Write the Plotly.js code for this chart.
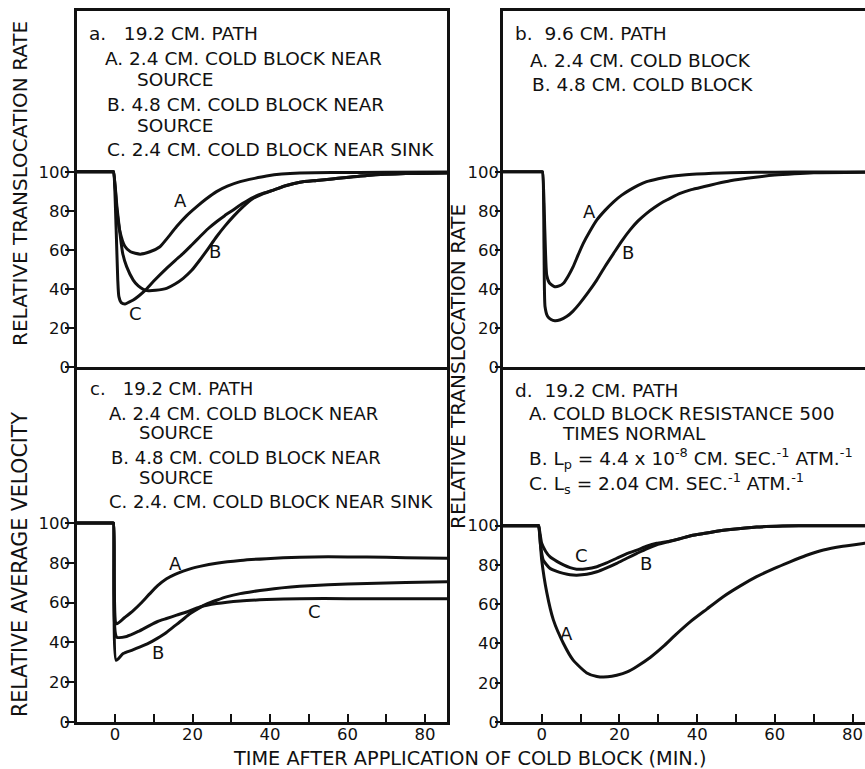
<!DOCTYPE html>
<html>
<head>
<meta charset="utf-8">
<script src="https://cdn.plot.ly/plotly-3.0.1.min.js"></script>
<style>html,body{margin:0;padding:0;background:#fff;}#chart{width:865px;height:769px;}</style>
</head>
<body>
<div id="chart"></div>
<script>
// ---------------- DATA ----------------
// Panel a: relative translocation rate, 19.2 cm path
const aA_x = [-10, -0.6, -0.4, 0.5, 1.2, 2.5, 4, 6.5, 9, 11.6, 13.5, 15.9, 18.5, 21.1, 23.5, 26.2, 29, 32.3, 36, 39.1, 43, 47.7, 56, 70, 86];
const aA_y = [100, 100, 100, 80, 70, 62, 59, 57.8, 59, 61.6, 66, 71.9, 77.5, 82.1, 86, 89.8, 92.6, 94.9, 96.6, 97.8, 98.8, 99.4, 99.6, 99.7, 99.8];
const aB_x = [-10, -0.6, -0.4, 0.5, 1.3, 2, 3, 4.7, 6, 7.3, 8.6, 10.5, 13.3, 15.5, 17.6, 19.8, 21.9, 24, 26.2, 28.3, 30.5, 33, 35.7, 38.3, 40.9, 44, 47.7, 52, 56, 65, 75, 86];
const aB_y = [100, 100, 100, 82, 68, 58, 51.4, 44.5, 41.5, 39.8, 39.1, 39.3, 40.3, 42.5, 45.4, 49.5, 54.8, 60.5, 66.7, 72, 77, 82, 86.4, 88.8, 90.6, 92.8, 94.6, 95.5, 96.3, 98.1, 99.1, 99.4];
const aC_x = [-10, -0.6, -0.4, 0.3, 0.7, 1.0, 1.6, 2.6, 3.6, 4.7, 6.2, 7.7, 10, 13.3, 15.5, 17.6, 19.8, 21.9, 24, 26.2, 28.3, 30.5, 33, 35.7, 38.3, 40.9, 44, 47.7, 52, 56, 65, 75, 86];
const aC_y = [100, 100, 100, 70, 45, 36, 33, 32.3, 33.2, 34.3, 36.5, 39.1, 44, 50.5, 54.5, 58.2, 62.5, 66.7, 70.8, 74.4, 77.5, 80.4, 83.8, 86.9, 89, 90.6, 92.8, 94.6, 95.5, 96.3, 98.1, 99.1, 99.4];

// Panel b: relative translocation rate, 9.6 cm path
const bA_x = [-10, 0, 0.2, 0.8, 1.3, 2, 3.4, 4.5, 5.6, 6.8, 8.1, 9.4, 10.7, 12.4, 14.2, 16.3, 18.5, 20.6, 22.7, 24.8, 27, 30, 33, 36.5, 39.9, 44, 48.5, 55, 65, 86];
const bA_y = [100, 100, 100, 70, 47, 43, 41.1, 41.5, 42.9, 46.5, 51.4, 57.5, 63.3, 69.5, 75.3, 80.2, 84.6, 88, 90.7, 93, 94.9, 96.4, 97.5, 98.3, 98.8, 99.2, 99.5, 99.7, 99.8, 99.8];
const bB_x = [-10, 0, 0.2, 0.6, 0.85, 1.5, 2.4, 3.4, 4.8, 6.4, 8, 9.8, 12, 14.2, 16.3, 18.5, 20.6, 22.7, 24.8, 27, 29.2, 31.3, 33.5, 35.6, 38.5, 41.6, 45, 48.5, 55, 60, 65, 70, 86];
const bB_y = [100, 100, 100, 60, 31, 26, 24.3, 23.7, 24.2, 25.8, 28.5, 32.6, 38.3, 44.6, 51.5, 58.2, 64.5, 70.1, 74.8, 78.7, 81.9, 84.6, 86.9, 88.9, 90.8, 92.3, 93.9, 95.4, 97.2, 98.3, 99, 99.5, 99.8];

// Panel c: relative average velocity, 19.2 cm path
const cA_x = [-10, -0.6, -0.4, 0.4, 2.5, 4.7, 7, 9, 11, 13.3, 15.5, 17.6, 19.8, 21.9, 26.2, 32.3, 39.1, 47.7, 55, 65, 75, 86];
const cA_y = [100, 100, 100, 49.3, 52.5, 56, 60.3, 64.5, 68.5, 72, 74.2, 75.8, 77.2, 78.2, 79.8, 81.2, 82.1, 82.8, 83, 82.9, 82.6, 82.3];
const cB_x = [-10, -0.6, -0.4, 0.3, 2.1, 4.3, 6.5, 8.7, 10.8, 13, 15, 17.2, 19.4, 21.9, 24, 26.2, 29, 32.3, 35.7, 39.1, 43, 47.7, 55, 65, 75, 86];
const cB_y = [100, 100, 100, 31, 34.4, 36, 37.7, 39.6, 41.9, 44.6, 47.7, 51, 54.5, 57.5, 59.6, 61.2, 63, 64.5, 65.6, 66.5, 67.4, 68.2, 69, 69.6, 70.1, 70.5];
const cC_x = [-10, -0.6, -0.4, 0.4, 3, 6, 9, 11, 13.3, 15.9, 18.5, 21.9, 26.2, 32.3, 39.1, 47.7, 60, 75, 86];
const cC_y = [100, 100, 100, 42.7, 43, 45.5, 48.6, 50.5, 52, 53.7, 55.3, 57.8, 59.5, 60.8, 61.5, 62, 62, 62, 62];

// Panel d: relative translocation rate, 19.2 cm path, modified parameters
const dA_x = [-10, -1, -0.8, 0, 1.3, 3, 5.6, 8.1, 11.6, 14.2, 17, 19.3, 22, 24.5, 28, 31.3, 34.5, 38.2, 42.5, 46.7, 51, 55.3, 59.6, 63.9, 68, 72.5, 77.5, 83, 86];
const dA_y = [100, 100, 100, 82.5, 66, 52, 40, 31.5, 25, 23.2, 23, 23.8, 25.5, 28.3, 33, 38.5, 44.5, 51, 57.5, 63.8, 69.2, 74, 78, 81.6, 84.8, 87.6, 89.5, 91, 91.8];
const dB_x = [-10, -1, -0.8, -0.3, 0.4, 2.1, 3.9, 5.6, 7.3, 9, 11.6, 14.2, 16.7, 19.3, 21.9, 24.5, 27, 29.6, 32.6, 35.6, 38.6, 41.6, 45, 48.5, 55.3, 62, 70, 86];
const dB_y = [100, 100, 100, 90, 82.5, 78.3, 76.7, 75.7, 75, 74.8, 75.2, 76.5, 78.5, 80.8, 83.4, 85.9, 88.2, 90.2, 91.8, 93.3, 95, 96, 97.1, 98, 99.3, 99.8, 100, 100];
const dC_x = [-10, -1, -0.8, 0, 1, 2.1, 3.9, 5.6, 7.3, 9, 11.6, 14.2, 16.7, 19.3, 21.9, 24.5, 27, 29.6, 32.6, 35.6, 38.6, 41.6, 45, 48.5, 55.3, 62, 70, 86];
const dC_y = [100, 100, 100, 91, 87, 84.2, 81.8, 80, 78.6, 77.8, 78, 79.1, 81, 83.4, 85.8, 87.5, 89.5, 91, 92, 93.4, 95, 96, 97.1, 98, 99.3, 99.8, 100, 100];

const yTickVals = [0, 20, 40, 60, 80, 100];
const yTickText = ['0', '20', '40', '60', '80', '100'];
const xTickVals = [0, 20, 40, 60, 80];
const xTickText = ['0', '20', '40', '60', '80'];

// ---------------- LAYOUT ----------------
const W = 865, H = 769;
const FONT = 'DejaVu Sans, Verdana, sans-serif';
const INK = '#111';
const px = v => v / W;
const py = v => 1 - v / H;

function line(x, y, xa, ya) {
  return {x: x, y: y, xaxis: xa, yaxis: ya, type: 'scatter', mode: 'lines',
    line: {color: INK, width: 3, shape: 'spline', smoothing: 0.55},
    hoverinfo: 'skip', showlegend: false};
}

const data = [
  line(aA_x, aA_y, 'x', 'y'), line(aB_x, aB_y, 'x', 'y'), line(aC_x, aC_y, 'x', 'y'),
  line(bA_x, bA_y, 'x2', 'y2'), line(bB_x, bB_y, 'x2', 'y2'),
  line(cA_x, cA_y, 'x3', 'y3'), line(cB_x, cB_y, 'x3', 'y3'), line(cC_x, cC_y, 'x3', 'y3'),
  line(dA_x, dA_y, 'x4', 'y4'), line(dB_x, dB_y, 'x4', 'y4'), line(dC_x, dC_y, 'x4', 'y4')
];

const baseAx = {showline: true, linecolor: INK, linewidth: 2.6, showgrid: false, zeroline: false,
  tickcolor: INK, tickwidth: 2, tickfont: {family: FONT, size: 16.5, color: INK}, fixedrange: true};

function xAx(dom, rng, anchor, mirror, withTicks) {
  const o = Object.assign({}, baseAx, {domain: dom, range: rng, anchor: anchor, mirror: mirror});
  if (withTicks) {
    Object.assign(o, {ticks: 'inside', ticklen: 8, tickmode: 'array', tickvals: xTickVals, ticktext: xTickText,
      showticklabels: true, ticklabelstandoff: -4,
      minor: {ticks: 'inside', ticklen: 8, tickwidth: 2, tickcolor: INK, tick0: 0, dtick: 10, showgrid: false}});
  } else {
    Object.assign(o, {ticks: '', showticklabels: false});
  }
  return o;
}
function yAx(dom, rng, anchor, mirror, tlen, standoff) {
  return Object.assign({}, baseAx, {domain: dom, range: rng, anchor: anchor, mirror: mirror,
    ticks: 'outside', ticklen: tlen, ticklabelstandoff: standoff,
    tickmode: 'array', tickvals: yTickVals, ticktext: yTickText});
}

const leftDom = [px(77), px(447)];
const rightDom = [px(503), 1];
const topDom = [py(367), py(11)];
const botDom = [py(722), py(367)];

function txt(text, x, y, size, anchor) {
  return {text: text, xref: 'paper', yref: 'paper', x: px(x), y: py(y), xanchor: anchor || 'left', yanchor: 'middle',
    showarrow: false, font: {family: FONT, size: size || 18.5, color: INK}};
}
function lab(text, x, y, xa, ya) {
  return {text: text, xref: xa, yref: ya, x: x, y: y, xanchor: 'center', yanchor: 'middle',
    showarrow: false, font: {family: FONT, size: 18, color: INK}};
}

const annotations = [
  // panel a legend text
  txt('a.&nbsp;&nbsp;&nbsp;19.2 CM. PATH', 87, 33),
  txt('A. 2.4 CM. COLD BLOCK NEAR', 103, 58),
  txt('SOURCE', 135, 79),
  txt('B. 4.8 CM. COLD BLOCK NEAR', 105, 104),
  txt('SOURCE', 135, 125),
  txt('C. 2.4 CM. COLD BLOCK NEAR SINK', 105, 149),
  // panel b
  txt('b.&nbsp;&nbsp;9.6 CM. PATH', 513, 33),
  txt('A. 2.4 CM. COLD BLOCK', 528, 60),
  txt('B. 4.8 CM. COLD BLOCK', 530, 84),
  // panel c
  txt('c.&nbsp;&nbsp;&nbsp;19.2 CM. PATH', 88, 389, 18),
  txt('A. 2.4 CM. COLD BLOCK NEAR', 107, 413, 18),
  txt('SOURCE', 137, 432, 18),
  txt('B. 4.8 CM. COLD BLOCK NEAR', 109, 457, 18),
  txt('SOURCE', 137, 477, 18),
  txt('C. 2.4. CM. COLD BLOCK NEAR SINK', 107, 501, 18),
  // panel d
  txt('d.&nbsp;&nbsp;19.2 CM. PATH', 513, 390),
  txt('A. COLD BLOCK RESISTANCE 500', 527, 413),
  txt('TIMES NORMAL', 560, 433),
  txt('B. L<sub>p</sub> = 4.4 x 10<sup>-8</sup> CM. SEC.<sup>-1</sup> ATM.<sup>-1</sup>', 527, 458),
  txt('C. L<sub>s</sub> = 2.04 CM. SEC.<sup>-1</sup> ATM.<sup>-1</sup>', 527, 483),
  // curve labels
  lab('A', 16.8, 85.5, 'x', 'y'), lab('B', 25.8, 58.9, 'x', 'y'), lab('C', 5.2, 27.6, 'x', 'y'),
  lab('A', 12.4, 79.4, 'x2', 'y2'), lab('B', 22.2, 58.4, 'x2', 'y2'),
  lab('A', 15.5, 79.9, 'x3', 'y3'), lab('B', 11.1, 34.7, 'x3', 'y3'), lab('C', 51.6, 55.3, 'x3', 'y3'),
  lab('A', 6.3, 45.2, 'x4', 'y4'), lab('B', 26.8, 80.8, 'x4', 'y4'), lab('C', 10.3, 84.7, 'x4', 'y4'),
  // axis titles
  Object.assign(txt('RELATIVE TRANSLOCATION RATE', 20, 184, 20, 'center'), {textangle: -90}),
  Object.assign(txt('RELATIVE AVERAGE VELOCITY', 20, 565, 20.5, 'center'), {textangle: -90}),
  Object.assign(txt('RELATIVE TRANSLOCATION RATE', 458, 366, 20, 'center'), {textangle: -90}),
  txt('TIME AFTER APPLICATION OF COLD BLOCK (MIN.)', 470, 758, 19.3, 'center')
];

const layout = {
  width: W, height: H,
  margin: {l: 0, r: 0, t: 0, b: 0, pad: 0},
  paper_bgcolor: '#fff', plot_bgcolor: 'rgba(0,0,0,0)',
  showlegend: false,
  font: {family: FONT, color: INK},
  xaxis: xAx(leftDom, [-9.81, 85.67], 'y', true, false),
  yaxis: yAx(topDom, [0, 182.3], 'x', true, 9, -8),
  xaxis2: xAx(rightDom, [-9.96, 83.2], 'y2', true, false),
  yaxis2: yAx(topDom, [0, 182.3], 'x2', false, 5, -7),
  xaxis3: xAx(leftDom, [-9.81, 85.67], 'y3', false, true),
  yaxis3: yAx(botDom, [0, 178.4], 'x3', true, 9, -8),
  xaxis4: xAx(rightDom, [-9.96, 83.2], 'y4', false, true),
  yaxis4: yAx(botDom, [0, 180.8], 'x4', false, 5, -7),
  annotations: annotations
};

Plotly.newPlot('chart', data, layout, {displayModeBar: false, staticPlot: true});
</script>
</body>
</html>
